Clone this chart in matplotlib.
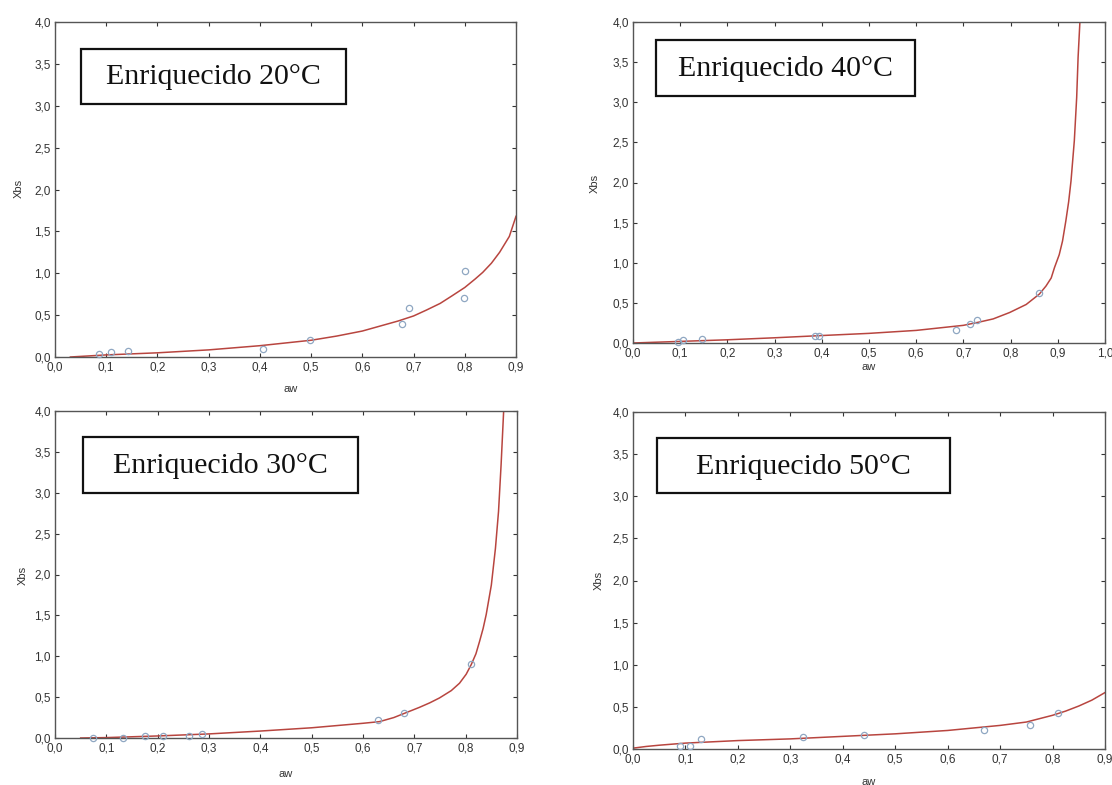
import matplotlib
matplotlib.use("Agg")
import matplotlib.pyplot as plt
from matplotlib.patches import Rectangle
from matplotlib.ticker import FuncFormatter

# ---------------- data ----------------
titles = ["Enriquecido 20°C", "Enriquecido 40°C", "Enriquecido 30°C", "Enriquecido 50°C"]

# Enriquecido 20 °C
aw20_obs = [0.085, 0.11, 0.142, 0.407, 0.498, 0.677, 0.692, 0.798, 0.80]
x20_obs = [0.04, 0.06, 0.075, 0.10, 0.20, 0.40, 0.58, 0.70, 1.03]
aw20_fit = [0.03, 0.1, 0.2, 0.3, 0.4, 0.5, 0.55, 0.6, 0.635, 0.67, 0.70, 0.725, 0.752,
            0.775, 0.80, 0.82, 0.835, 0.852, 0.868, 0.887, 0.90]
x20_fit = [0.0, 0.025, 0.05, 0.085, 0.135, 0.20, 0.25, 0.31, 0.37, 0.43, 0.49, 0.56, 0.64,
           0.73, 0.83, 0.93, 1.01, 1.12, 1.25, 1.44, 1.68]

# Enriquecido 40 °C
aw40_obs = [0.095, 0.106, 0.146, 0.385, 0.395, 0.685, 0.713, 0.729, 0.861]
x40_obs = [0.013, 0.04, 0.05, 0.085, 0.09, 0.16, 0.24, 0.29, 0.62]
aw40_fit = [0.0, 0.1, 0.2, 0.3, 0.4, 0.5, 0.6, 0.7, 0.733, 0.763, 0.798, 0.833, 0.861,
            0.875, 0.886, 0.893, 0.903, 0.910, 0.917, 0.923, 0.928, 0.935, 0.940, 0.943, 0.947]
x40_fit = [0.0, 0.02, 0.04, 0.065, 0.093, 0.12, 0.157, 0.22, 0.26, 0.30, 0.38, 0.48, 0.61,
           0.71, 0.81, 0.94, 1.10, 1.27, 1.52, 1.76, 2.02, 2.52, 3.06, 3.56, 4.02]

# Enriquecido 30 °C
aw30_obs = [0.074, 0.132, 0.176, 0.21, 0.261, 0.286, 0.630, 0.680, 0.810]
x30_obs = [0.0, 0.005, 0.025, 0.025, 0.025, 0.053, 0.215, 0.31, 0.90]
aw30_fit = [0.05, 0.1, 0.2, 0.3, 0.4, 0.5, 0.6, 0.632, 0.66, 0.684, 0.710, 0.730, 0.749,
            0.772, 0.788, 0.801, 0.811, 0.820, 0.827, 0.834, 0.840, 0.850, 0.858, 0.864,
            0.869, 0.874]
x30_fit = [0.0, 0.005, 0.025, 0.05, 0.085, 0.125, 0.18, 0.20, 0.25, 0.31, 0.375, 0.43, 0.49,
           0.58, 0.67, 0.78, 0.90, 1.03, 1.18, 1.34, 1.51, 1.87, 2.32, 2.77, 3.34, 4.0]

# Enriquecido 50 °C
aw50_obs = [0.090, 0.108, 0.129, 0.324, 0.441, 0.670, 0.757, 0.811]
x50_obs = [0.03, 0.04, 0.12, 0.14, 0.17, 0.22, 0.29, 0.43]
aw50_fit = [0.0, 0.025, 0.05, 0.1, 0.2, 0.3, 0.4, 0.5, 0.6, 0.65, 0.7, 0.75, 0.775, 0.8,
            0.825, 0.85, 0.875, 0.9]
x50_fit = [0.01, 0.03, 0.045, 0.07, 0.10, 0.12, 0.15, 0.18, 0.22, 0.25, 0.28, 0.32, 0.36,
           0.40, 0.45, 0.51, 0.58, 0.67]

xticks_09 = [0.0, 0.1, 0.2, 0.3, 0.4, 0.5, 0.6, 0.7, 0.8, 0.9]
xticks_10 = [0.0, 0.1, 0.2, 0.3, 0.4, 0.5, 0.6, 0.7, 0.8, 0.9, 1.0]
yticks = [0.0, 0.5, 1.0, 1.5, 2.0, 2.5, 3.0, 3.5, 4.0]

# ---------------- layout ----------------
W, H = 1112, 785
fig = plt.figure(figsize=(W / 100, H / 100), dpi=100)
fig.patch.set_facecolor("white")

def frac(l, t, r, b):
    return [l / W, 1 - b / H, (r - l) / W, (b - t) / H]

panels = [
    dict(rect=(55, 22, 516, 357), obs=(aw20_obs, x20_obs), fit=(aw20_fit, x20_fit), xmax=0.9,
         xt=xticks_09, box=(81, 49, 346, 104), title=titles[0], ylab=(19, 188), xlab=(291, 389)),
    dict(rect=(633, 22, 1105, 343), obs=(aw40_obs, x40_obs), fit=(aw40_fit, x40_fit), xmax=1.0,
         xt=xticks_10, box=(656, 40, 915, 96), title=titles[1], ylab=(595, 183), xlab=(869, 367)),
    dict(rect=(55, 411, 517, 738), obs=(aw30_obs, x30_obs), fit=(aw30_fit, x30_fit), xmax=0.9,
         xt=xticks_09, box=(83, 437, 358, 493), title=titles[2], ylab=(23, 575), xlab=(286, 774)),
    dict(rect=(633, 412, 1105, 749), obs=(aw50_obs, x50_obs), fit=(aw50_fit, x50_fit), xmax=0.9,
         xt=xticks_09, box=(657, 438, 950, 493), title=titles[3], ylab=(599, 580), xlab=(869, 782)),
]

fmt = FuncFormatter(lambda v, p: f"{v:.1f}".replace(".", ","))
tick_font = "Liberation Sans"
line_col = "#b8453f"
pt_col = "#8fa7c2"

for p in panels:
    ax = fig.add_axes(frac(*p["rect"]))
    ax.plot(p["fit"][0], p["fit"][1], color=line_col, lw=1.1, zorder=2,
            solid_joinstyle="round")
    ax.plot(p["obs"][0], p["obs"][1], linestyle="none", marker="o", ms=4.5,
            mfc="none", mec=pt_col, mew=0.9, zorder=3, clip_on=False)
    ax.set_xlim(0, p["xmax"])
    ax.set_ylim(0, 4.0)
    ax.set_xticks(p["xt"])
    ax.set_yticks(yticks)
    ax.xaxis.set_major_formatter(fmt)
    ax.yaxis.set_major_formatter(fmt)
    ax.tick_params(direction="in", length=3, width=0.8, top=True, right=True,
                   labelsize=8.5, colors="#333333", pad=3)
    for lab in ax.get_xticklabels() + ax.get_yticklabels():
        lab.set_fontfamily(tick_font)
    for s in ax.spines.values():
        s.set_color("#555555")
        s.set_linewidth(1.0)

    # title box
    l, t, r, b = p["box"]
    fig.patches.append(Rectangle((l / W, 1 - b / H), (r - l) / W, (b - t) / H,
                                 transform=fig.transFigure, fill=True, facecolor="white",
                                 edgecolor="#111111", linewidth=1.6, zorder=5))
    fig.text((l + r) / 2 / W, 1 - ((t + b) / 2 + 1) / H, p["title"], ha="center", va="center",
             fontsize=21.5, family="Liberation Serif", color="#111111", zorder=6)

    # axis labels
    xl, yl = p["ylab"]
    fig.text(xl / W, 1 - yl / H, "Xbs", rotation=90, ha="center", va="center",
             fontsize=8, family=tick_font, color="#333333")
    xl, yl = p["xlab"]
    fig.text(xl / W, 1 - yl / H, "aw", ha="center", va="center",
             fontsize=8, family=tick_font, color="#333333")

fig.savefig("out.png", dpi=100)
